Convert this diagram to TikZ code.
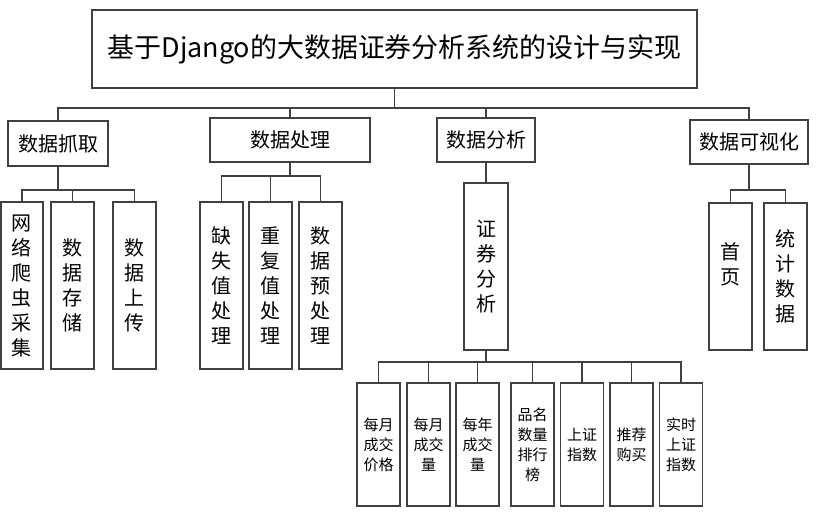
\documentclass[tikz,border=0pt]{standalone}
\usepackage{fontspec}
\newfontfamily\cjk{Noto Sans CJK SC}
\begin{document}
\begin{tikzpicture}[x=0.75pt,y=-0.75pt,
  box/.style 2 args={draw=black!75, line width=0.9pt, rectangle, inner sep=0pt,
    minimum width=#1*0.75pt, minimum height=#2*0.75pt, align=center, text=black},
  ttl/.style={font=\cjk\fontsize{20.2}{24}\selectfont},
  lvl/.style={font=\cjk\fontsize{15}{18.75}\selectfont},
  sml/.style={font=\cjk\fontsize{11.25}{15}\selectfont},
  wire/.style={draw=black!75, line width=0.9pt}]
\useasboundingbox (0,0) rectangle (816,518);
\fill[white] (0,0) rectangle (816,518);
% title
\node[box={605}{78}, ttl] (title) at (394.5,49) {基于Django的大数据证券分析系统的设计与实现};
% level 1
\node[box={100}{45}, lvl] (n1) at (58,143.5) {数据抓取};
\node[box={160}{44}, lvl] (n2) at (290,140) {数据处理};
\node[box={98}{44}, lvl] (n3) at (486,140) {数据分析};
\node[box={118}{44}, lvl] (n4) at (749,142) {数据可视化};
\coordinate (bus0) at (0,108);
\draw[wire] (title.south) -- (title.south |- bus0);
\draw[wire] (n1.north) -- (n1.north |- bus0) -- (n4.north |- bus0) -- (n4.north);
\draw[wire] (n2.north) -- (n2.north |- bus0);
\draw[wire] (n3.north) -- (n3.north |- bus0);
% children of n1
\node[box={42}{167}, lvl] (a1) at (22,285.5) {网\\络\\爬\\虫\\采\\集};
\node[box={43}{167}, lvl] (a2) at (72.5,285.5) {数\\据\\存\\储};
\node[box={43}{167}, lvl] (a3) at (134.5,285.5) {数\\据\\上\\传};
\coordinate (bus1) at (0,190);
\draw[wire] (n1.south) -- (n1.south |- bus1);
\draw[wire] (a1.north) -- (a1.north |- bus1) -- (a3.north |- bus1) -- (a3.north);
\draw[wire] (a2.north) -- (a2.north |- bus1);
% children of n2
\node[box={43}{167}, lvl] (b1) at (221.5,285.5) {缺\\失\\值\\处\\理};
\node[box={43}{167}, lvl] (b2) at (270.5,285.5) {重\\复\\值\\处\\理};
\node[box={43}{167}, lvl] (b3) at (320.5,285.5) {数\\据\\预\\处\\理};
\coordinate (bus2) at (0,176);
\draw[wire] (n2.south) -- (n2.south |- bus2);
\draw[wire] (b1.north) -- (b1.north |- bus2) -- (b3.north |- bus2) -- (b3.north);
\draw[wire] (b2.north) -- (b2.north |- bus2);
% child of n3
\node[box={44}{167}, lvl] (s) at (486,266.5) {证\\券\\分\\析};
\draw[wire] (n3.south) -- (s.north);
% children of n4
\node[box={43}{147}, lvl] (v1) at (730.5,276.5) {首\\页\\\mbox{}};
\node[box={43}{147}, lvl] (v2) at (785.5,276.5) {统\\计\\数\\据};
\coordinate (bus4) at (0,190);
\draw[wire] (n4.south) -- (n4.south |- bus4);
\draw[wire] (v1.north) -- (v1.north |- bus4) -- (v2.north |- bus4) -- (v2.north);
% children of s
\node[box={43}{123}, sml] (d1) at (378.5,444.5) {每月\\成交\\价格};
\node[box={43}{123}, sml] (d2) at (428.5,444.5) {每月\\成交\\量};
\node[box={43}{123}, sml] (d3) at (477.5,444.5) {每年\\成交\\量};
\node[box={43}{123}, sml] (d4) at (532.5,444.5) {品名\\数量\\排行\\榜};
\node[box={43}{123}, sml] (d5) at (582,444.5) {上证\\指数};
\node[box={43}{123}, sml] (d6) at (631.5,444.5) {推荐\\购买};
\node[box={43}{123}, sml] (d7) at (681,444.5) {实时\\上证\\指数};
\coordinate (bus5) at (0,362);
\draw[wire] (s.south) -- (s.south |- bus5);
\draw[wire] (d1.north) -- (d1.north |- bus5) -- (d7.north |- bus5) -- (d7.north);
\foreach \k in {d2,d3,d4,d5,d6} \draw[wire] (\k.north) -- (\k.north |- bus5);
\end{tikzpicture}
\end{document}
